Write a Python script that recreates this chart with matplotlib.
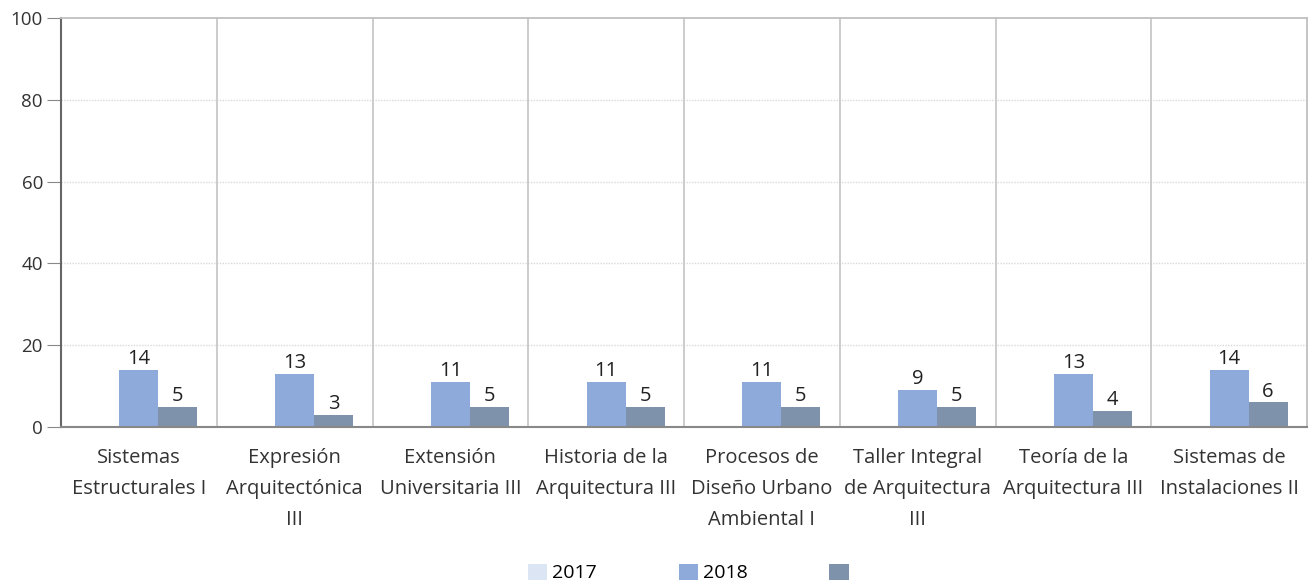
import numpy as np
import matplotlib.pyplot as plt

# =====================
# Data
# =====================
materias = [
    "Sistemas\nEstructurales I",
    "Expresión\nArquitectónica\nIII",
    "Extensión\nUniversitaria III",
    "Historia de la\nArquitectura III",
    "Procesos de\nDiseño Urbano\nAmbiental I",
    "Taller Integral\nde Arquitectura\nIII",
    "Teoría de la\nArquitectura III",
    "Sistemas de\nInstalaciones II",
]
serie_2017 = [0, 0, 0, 0, 0, 0, 0, 0]
serie_2018 = [14, 13, 11, 11, 11, 9, 13, 14]
serie_3 = [5, 3, 5, 5, 5, 5, 4, 6]
series_names = ["2017", "2018", " "]

# =====================
# Plot
# =====================
plt.rcParams["font.family"] = ["Open Sans", "DejaVu Sans"]

fig = plt.figure(figsize=(13.13, 5.86), dpi=100)
ax = fig.add_axes([61 / 1313, 1 - 427 / 586, 1246 / 1313, 409 / 586])

x = np.arange(len(materias))
w = 0.25
colors = ["#dbe5f3", "#8eaadb", "#7f92ab"]

b1 = ax.bar(x - w, serie_2017, w, color=colors[0], label=series_names[0])
b2 = ax.bar(x, serie_2018, w, color=colors[1], label=series_names[1])
b3 = ax.bar(x + w, serie_3, w, color=colors[2], label=series_names[2])

for bars, vals in [(b2, serie_2018), (b3, serie_3)]:
    for b, v in zip(bars, vals):
        ax.text(b.get_x() + b.get_width() / 2, v + 0.2, str(v),
                ha="center", va="bottom", fontsize=14.5, color="#222222")

ax.set_xlim(-0.5, len(materias) - 0.5)
ax.set_ylim(0, 100)
ax.set_yticks([0, 20, 40, 60, 80, 100])
ax.set_xticks(x)
ax.set_xticklabels(materias, fontsize=14.5, color="#333333", linespacing=1.75)
ax.tick_params(axis="x", length=0, pad=15)
ax.tick_params(axis="y", length=10, color="#888888", labelsize=13.5,
               labelcolor="#333333", pad=3)

# dotted horizontal grid and category separators
for yv in [20, 40, 60, 80]:
    ax.axhline(yv, color="#d9d9d9", lw=1, ls=(0, (1, 1)), zorder=0)
for xv in np.arange(0.5, len(materias) - 0.5, 1):
    ax.axvline(xv, color="#c8c8c8", lw=1.3, zorder=0)

for s in ["top", "right"]:
    ax.spines[s].set_color("#bfbfbf")
    ax.spines[s].set_linewidth(1.3)
ax.spines["left"].set_color("#666666")
ax.spines["left"].set_linewidth(1.5)
ax.spines["bottom"].set_color("#888888")
ax.spines["bottom"].set_linewidth(1.5)

fig.legend(handles=[b1, b2, b3], labels=series_names, loc="center",
           bbox_to_anchor=(0.528, 1 - 573 / 586), ncol=3, frameon=False,
           fontsize=14, handlelength=1.0, handleheight=0.9,
           handletextpad=0.25, columnspacing=4.2)

fig.savefig("out.png", dpi=100)
